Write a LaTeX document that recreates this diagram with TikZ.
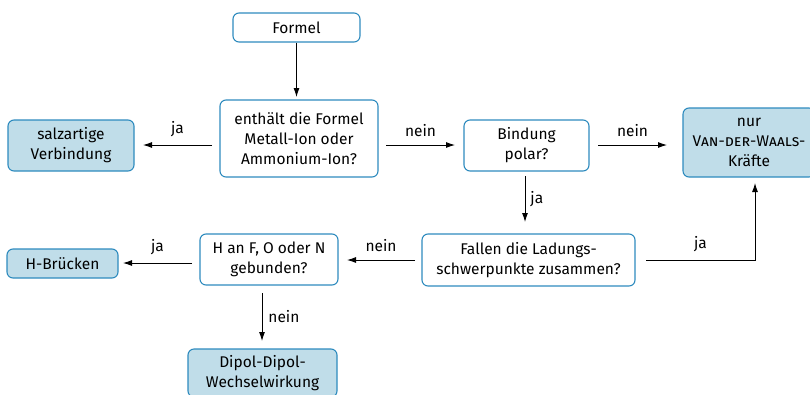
\documentclass[tikz,border=0pt]{standalone}
\usepackage{fontspec}
\setmainfont{Fira Sans}
\usetikzlibrary{arrows.meta}
\definecolor{bordc}{HTML}{2E8BBE}
\definecolor{fillc}{HTML}{C0DDE9}
\begin{document}
\begin{tikzpicture}[x=1pt,y=-1pt,
  box/.style={draw=bordc,line width=1.1pt,rounded corners=6pt,align=center,
    inner sep=0pt,font=\fontsize{15.5}{20}\selectfont},
  res/.style={box,fill=fillc},
  arr/.style={-{Latex[length=9pt,width=6pt]},line width=0.9pt},
  lab/.style={font=\fontsize{15.5}{16}\selectfont,inner sep=0pt}]
\useasboundingbox (0,0) rectangle (810,394);
\node[box,minimum width=127pt,minimum height=29pt] (formel) at (296.5,27.5) {Formel};
\node[box,minimum width=158pt,minimum height=77pt] (enth) at (299,138.5) {enthält die Formel\\Metall-Ion oder\\Ammonium-Ion?};
\node[res,minimum width=126pt,minimum height=51pt] (salz) at (71,145.5) {salzartige\\Verbindung};
\node[box,minimum width=125pt,minimum height=51pt] (bind) at (526.5,145.5) {Bindung\\polar?};
\node[res,minimum width=132pt,minimum height=69pt] (vdw) at (749,142.5) {nur\\\textsc{Van-der-Waals-}\\Kräfte};
\node[box,minimum width=213pt,minimum height=52pt] (fall) at (528.5,260) {Fallen die Ladungs-\\schwerpunkte zusammen?};
\node[box,minimum width=138pt,minimum height=51pt] (hanf) at (269,259.5) {H an F, O oder N\\gebunden?};
\node[res,minimum width=111pt,minimum height=29pt] (hbr) at (62.5,263.5) {H-Brücken};
\node[res,minimum width=149pt,minimum height=48pt] (dip) at (262.5,373) {Dipol-Dipol-\\Wechselwirkung};
\coordinate (corner) at (755,260);

\draw[arr] (formel) -- (296.5,97);
\draw[arr] (212,145) -- (143,145) node[lab,midway,above=8pt] {ja};
\draw[arr] (386,145) -- (455,145) node[lab,midway,above=8pt] {nein};
\draw[arr] (598,145) -- (667,145) node[lab,midway,above=8pt] {nein};
\draw[arr] (525,176) -- (525,222) node[lab,midway,right=5pt] {ja};
\draw[arr] (646,260) -- (corner) node[lab,midway,above=8pt] {ja} -- (755,183);
\draw[arr] (415,260) -- (347,260) node[lab,midway,above=8pt] {nein};
\draw[arr] (192,263) -- (123,263) node[lab,midway,above=8pt] {ja};
\draw[arr] (262,293) -- (262,341) node[lab,midway,right=6pt] {nein};
\end{tikzpicture}
\end{document}
